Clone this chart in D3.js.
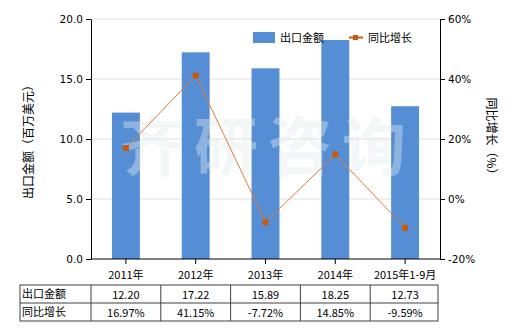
<!DOCTYPE html>
<meta charset="utf-8">
<script src="https://cdn.jsdelivr.net/npm/d3@7"></script>
<style>
body { margin: 0; background: #fff; }
text { font-family: "Noto Sans CJK SC", "DejaVu Sans", sans-serif; font-size: 11px; fill: #000; }
.grid line { stroke: #e0e0e0; }
.axis path, .axis line { stroke: #000; }
</style>
<body>
<div id="chart"></div>
<script>
var categories = ["2011年", "2012年", "2013年", "2014年", "2015年1-9月"];
var exportValues = [12.20, 17.22, 15.89, 18.25, 12.73];
var growthValues = [16.97, 41.15, -7.72, 14.85, -9.59];
var exportLabels = ["12.20", "17.22", "15.89", "18.25", "12.73"];
var growthLabels = ["16.97%", "41.15%", "-7.72%", "14.85%", "-9.59%"];
var leftTicks = [0, 5, 10, 15, 20];
var rightTicks = [-20, 0, 20, 40, 60];

var W = 520, H = 330;
var pLeft = 91, pRight = 440, pTop = 19, pBottom = 259;

var svg = d3.select("#chart").append("svg")
    .attr("width", W)
    .attr("height", H);

var x = d3.scaleBand().domain(categories).range([pLeft, pRight]).paddingInner(0.6).paddingOuter(0.3);
var xc = d3.scaleBand().domain(categories).range([pLeft, pRight]);
var y = d3.scaleLinear().domain([0, 20]).range([pBottom, pTop]);
var y2 = d3.scaleLinear().domain([-20, 60]).range([pBottom, pTop]);

// grid
svg.append("g").attr("class", "grid")
  .selectAll("line").data(leftTicks.slice(1)).enter().append("line")
  .attr("x1", pLeft).attr("x2", pRight)
  .attr("y1", function(d) { return y(d); })
  .attr("y2", function(d) { return y(d); });

// bars
svg.selectAll(".bar").data(exportValues).enter().append("rect")
  .attr("class", "bar")
  .attr("x", function(d, i) { return x(categories[i]); })
  .attr("width", x.bandwidth())
  .attr("y", function(d) { return y(d); })
  .attr("height", function(d) { return pBottom - y(d); })
  .style("fill", "#558ed5");

// watermark
svg.append("text")
  .attr("x", 268).attr("y", 170)
  .attr("text-anchor", "middle")
  .style("font-size", "64px")
  .style("font-weight", "bold")
  .style("letter-spacing", "10px")
  .style("fill", "#e4ecf0")
  .style("opacity", 0.4)
  .text("齐研咨询");

// line
var line = d3.line()
  .x(function(d, i) { return xc(categories[i]) + xc.bandwidth() / 2; })
  .y(function(d) { return y2(d); });

svg.append("path")
  .datum(growthValues)
  .attr("d", line)
  .attr("fill", "none")
  .style("stroke", "#e07b39")
  .style("stroke-width", 1);

svg.selectAll(".pt").data(growthValues).enter().append("rect")
  .attr("class", "pt")
  .attr("x", function(d, i) { return xc(categories[i]) + xc.bandwidth() / 2 - 3; })
  .attr("y", function(d) { return y2(d) - 3; })
  .attr("width", 6).attr("height", 6)
  .style("fill", "#c55a11");

// axes
svg.append("g").attr("class", "axis")
  .attr("transform", "translate(" + pLeft + ",0)")
  .call(d3.axisLeft(y).tickValues(leftTicks).tickFormat(d3.format(".1f")).tickSize(5).tickSizeOuter(0))
  .selectAll("text").style("font-family", "DejaVu Sans, sans-serif").style("font-size", "10.5px");

svg.append("g").attr("class", "axis")
  .attr("transform", "translate(" + pRight + ",0)")
  .call(d3.axisRight(y2).tickValues(rightTicks).tickFormat(function(d) { return d + "%"; }).tickSize(5).tickSizeOuter(0))
  .selectAll("text").style("font-family", "DejaVu Sans, sans-serif").style("font-size", "10.5px");

var xAxis = svg.append("g").attr("class", "axis")
  .attr("transform", "translate(0," + pBottom + ")")
  .call(d3.axisBottom(xc).tickSize(5).tickSizeOuter(0));
xAxis.selectAll("text").attr("dy", "1.1em").style("font-size", "11px");
xAxis.select(".domain").remove();
svg.append("line").attr("x1", pLeft).attr("x2", pRight)
  .attr("y1", pBottom).attr("y2", pBottom).style("stroke", "#000");

// axis titles
svg.append("text")
  .attr("transform", "translate(33," + ((pTop + pBottom) / 2) + ") rotate(-90)")
  .attr("text-anchor", "middle")
  .style("font-size", "12px")
  .text("出口金额（百万美元）");
svg.append("text")
  .attr("transform", "translate(487," + ((pTop + pBottom) / 2) + ") rotate(90)")
  .attr("text-anchor", "middle")
  .style("font-size", "12px")
  .text("同比增长（%）");

// legend
svg.append("rect").attr("x", 253).attr("y", 32).attr("width", 22).attr("height", 11).style("fill", "#558ed5");
svg.append("text").attr("x", 280).attr("y", 42).text("出口金额");
svg.append("line").attr("x1", 349).attr("x2", 363).attr("y1", 37.5).attr("y2", 37.5)
  .style("stroke", "#c55a11").style("stroke-width", 2);
svg.append("rect").attr("x", 353).attr("y", 35).attr("width", 5).attr("height", 5).style("fill", "#c55a11");
svg.append("text").attr("x", 368).attr("y", 42).text("同比增长");

// table
var tLeft = 20, rowH = 18, tTop = 285;
var rows = [["出口金额", exportLabels], ["同比增长", growthLabels]];
var tbl = svg.append("g");
tbl.append("rect").attr("x", tLeft).attr("y", tTop).attr("width", pRight - tLeft - 2).attr("height", rowH * 2)
  .style("fill", "none").style("stroke", "#404040");
tbl.append("line").attr("x1", tLeft).attr("x2", pRight - 2).attr("y1", tTop + rowH).attr("y2", tTop + rowH).style("stroke", "#404040");
var cols = [pLeft].concat(categories.slice(1).map(function(c) { return xc(c); }));
tbl.selectAll(".vline").data(cols).enter().append("line")
  .attr("x1", function(d) { return d; }).attr("x2", function(d) { return d; })
  .attr("y1", tTop).attr("y2", tTop + rowH * 2).style("stroke", "#404040");
rows.forEach(function(r, ri) {
  tbl.append("text").attr("x", tLeft + 2).attr("y", tTop + ri * rowH + 13).text(r[0]);
  r[1].forEach(function(v, i) {
    tbl.append("text")
      .attr("x", xc(categories[i]) + xc.bandwidth() / 2)
      .attr("y", tTop + ri * rowH + 14)
      .attr("text-anchor", "middle")
      .text(v);
  });
});
</script>
</body>
